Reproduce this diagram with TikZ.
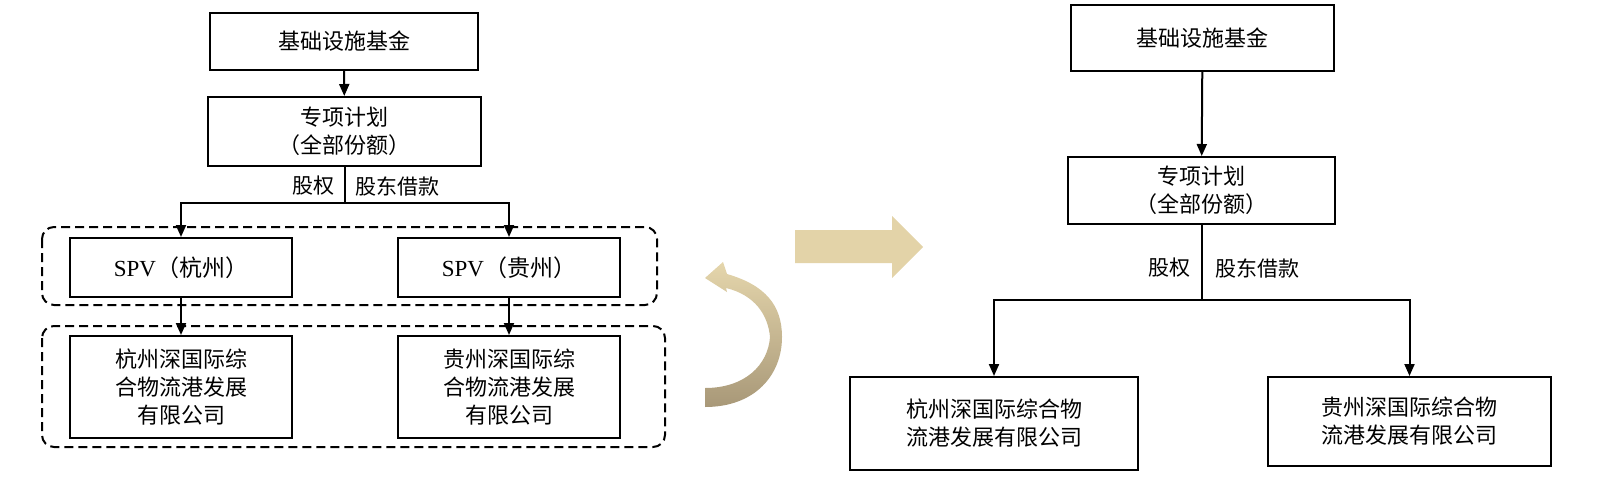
\documentclass[tikz,border=0pt]{standalone}
\usepackage{fontspec}
\setmainfont{Liberation Serif}
\newfontfamily\cjk{Noto Sans CJK SC}
\usetikzlibrary{arrows.meta}
\begin{document}
\begin{tikzpicture}[x=1pt,y=-1pt,
  box/.style={draw,line width=2pt,minimum width=#1,inner sep=0pt,align=center,font=\fontsize{22}{28}\selectfont\cjk},
  lab/.style={font=\fontsize{21}{25}\selectfont\cjk},
  arr/.style={-{Triangle[length=12pt,width=10pt]},line width=2pt},
  dbox/.style={draw,dashed,line width=2pt,rounded corners=12pt,dash pattern=on 9pt off 5pt}]
\useasboundingbox (0,0) rectangle (1606,496);
% left
\node[box=268pt,minimum height=57pt] (a) at (344,41.5) {基础设施基金};
\node[box=273pt,minimum height=69pt] (b) at (344.5,131.5) {专项计划\\（全部份额）};
\draw[dbox] (42,227) rectangle (657,305);
\draw[dbox] (42,326) rectangle (665,447);
\node[box=222pt,minimum height=59pt,font=\fontsize{23}{28}\selectfont] (c) at (181,267.5) {SPV{\cjk（杭州）}};
\node[box=222pt,minimum height=59pt,font=\fontsize{23}{28}\selectfont] (d) at (509,267.5) {SPV{\cjk（贵州）}};
\node[box=222pt,minimum height=102pt] (e) at (181,387) {杭州深国际综\\合物流港发展\\有限公司};
\node[box=222pt,minimum height=102pt] (f) at (509,387) {贵州深国际综\\合物流港发展\\有限公司};
\draw[arr] (a) -- (b);
\coordinate (j) at (345,203);
\draw[line width=2pt] (b.south -| j) -- (j);
\draw[arr] (j) -| (c);
\draw[arr] (j) -| (d);
\node[lab,anchor=east] at (338,186) {股权};
\node[lab,anchor=west] at (352,186) {股东借款};
\draw[arr] (c) -- (e);
\draw[arr] (d) -- (f);
% big arrow
\fill[fill={rgb,255:red,227;green,211;blue,168}] (795,230) -- (892,230) -- (892,216) -- (923,247) -- (892,278) -- (892,263) -- (795,263) -- cycle;
% curved arrow
\shade[top color={rgb,255:red,229;green,214;blue,172},bottom color={rgb,255:red,168;green,152;blue,120}]
 (705,407) .. controls (755,407) and (782,375) .. (782,337) .. controls (782,305) and (765,285) .. (727,274) -- (723,262) -- (705,278) -- (727,292) -- (726,288) .. controls (755,295) and (768,315) .. (770,337) .. controls (768,365) and (745,388) .. (705,388) -- cycle;
% right
\node[box=263pt,minimum height=66pt] (g) at (1202.5,38) {基础设施基金};
\node[box=267pt,minimum height=67pt] (h) at (1201.5,190.5) {专项计划\\（全部份额）};
\node[box=288pt,minimum height=93pt] (k) at (994,423.5) {杭州深国际综合物\\流港发展有限公司};
\node[box=283pt,minimum height=89pt] (m) at (1409.5,421.5) {贵州深国际综合物\\流港发展有限公司};
\draw[arr] (g) -- (h);
\coordinate (j2) at (1202,300);
\draw[line width=2pt] (h.south -| j2) -- (j2);
\draw[arr] (j2) -| (k);
\draw[arr] (j2) -| (m);
\node[lab,anchor=east] at (1194,268) {股权};
\node[lab,anchor=west] at (1212,268) {股东借款};
\end{tikzpicture}
\end{document}
